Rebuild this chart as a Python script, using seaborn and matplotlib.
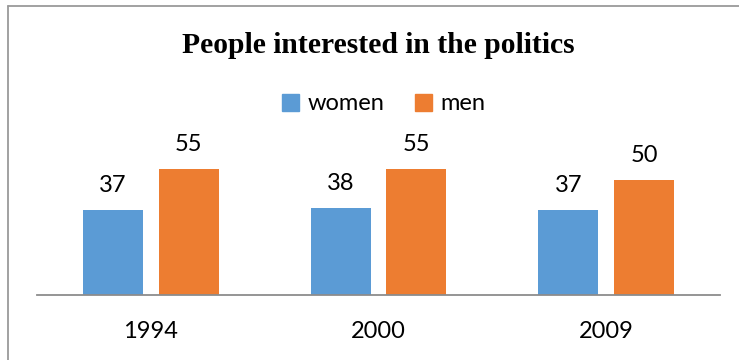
import matplotlib
matplotlib.use("Agg")
import matplotlib.pyplot as plt
from matplotlib.lines import Line2D
import pandas as pd
import seaborn as sns

years = ["1994", "2000", "2009"]
women = [37, 38, 37]
men = [55, 55, 50]
series_names = ["women", "men"]
colors = ["#5B9BD5", "#ED7D31"]
title = "People interested in the politics"

df = pd.DataFrame({
    "year": years * 2,
    "group": [series_names[0]] * len(years) + [series_names[1]] * len(years),
    "value": women + men,
})

sns.set_theme(style="white")
plt.rcParams["font.family"] = ["Lato", "DejaVu Sans"]
plt.rcParams["text.color"] = "black"
plt.rcParams["xtick.color"] = "black"
plt.rcParams["xtick.labelcolor"] = "black"

W, H = 739, 360
fig = plt.figure(figsize=(W / 100, H / 100), dpi=100)
fig.patch.set_facecolor("white")

# plot area: baseline at y=295 px, x from 37 to 720 px
ax = fig.add_axes([37 / W, 1 - 295 / H, (720 - 37) / W, 138 / H])
sns.barplot(data=df, x="year", y="value", hue="group", palette=colors,
            width=0.667, gap=0.21, saturation=1, linewidth=0, ax=ax,
            legend=False)
ax.set_xlim(-0.5, 2.5)
ax.set_ylim(0, 60)
ax.set_xlabel("")
ax.set_ylabel("")
ax.set_yticks([])
for s in ["left", "right", "top"]:
    ax.spines[s].set_visible(False)
ax.spines["bottom"].set_color("#8c8c8c")
ax.spines["bottom"].set_linewidth(1.3)
ax.tick_params(axis="x", length=0, pad=19, labelsize=17, labelcolor="black")
ax.set_facecolor("none")

for cont in ax.containers:
    ax.bar_label(cont, fmt="%d", padding=10, fontsize=17, color="black")

# legend
handles = [plt.Rectangle((0, 0), 1, 1, color=c) for c in colors]
leg = fig.legend(handles, series_names, loc="center", bbox_to_anchor=(384 / W, 1 - 104 / H),
                 ncol=2, frameon=False, fontsize=17, handlelength=0.72, handleheight=0.72,
                 handletextpad=0.35, columnspacing=1.3, borderpad=0, labelcolor="black")

# title
fig.text(378 / W, 1 - 53 / H, title, ha="center", va="baseline", color="black",
         fontsize=21.3, fontweight="bold", family=["Liberation Serif", "DejaVu Serif"])

# chart frame
fig.add_artist(Line2D([7.5 / W, 1], [1 - 5.5 / H] * 2, transform=fig.transFigure,
                      color="#9a9a9a", lw=1.3))
fig.add_artist(Line2D([7.5 / W] * 2, [0, 1 - 5.5 / H], transform=fig.transFigure,
                      color="#9a9a9a", lw=1.3))

fig.savefig("out.png", dpi=100)
